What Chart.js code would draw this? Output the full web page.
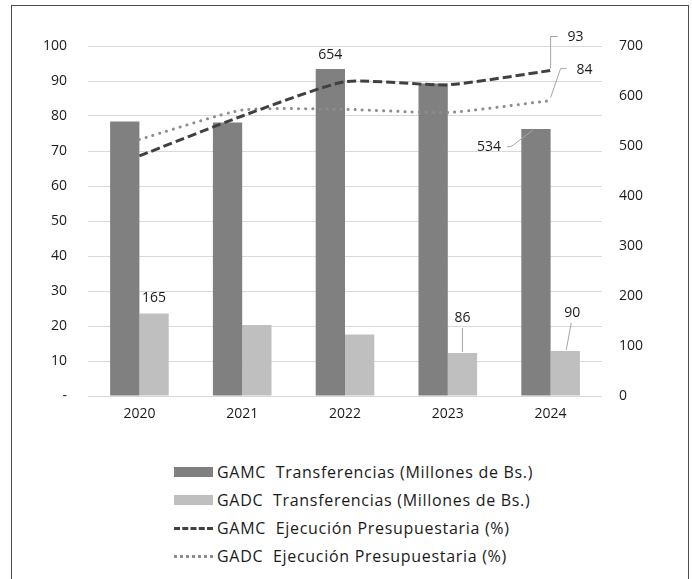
<!DOCTYPE html>
<html>
<head>
<meta charset="utf-8">
<script src="https://cdn.jsdelivr.net/npm/chart.js@4.4.0/dist/chart.umd.min.js"></script>
<style>
    body { margin: 0; background: #fff; font-family: "Open Sans", sans-serif; }
    #wrap { position: relative; width: 692px; height: 579px; overflow: hidden; }
    #frame {
        position: absolute; left: 11px; top: 5px; width: 676px; height: 640px;
        border: 1.5px solid #4d4d4d; border-bottom: none;
    }
    #chart { position: absolute; left: 0; top: 0; }
    #legend { position: absolute; left: 0; top: 458px; }
    .item { position: absolute; left: 174px; height: 28px; white-space: pre; font-size: 16px; letter-spacing: 0.7px; color: #1a1a1a; }
    .swatch { position: absolute; left: 0; width: 39px; }
    .item span.txt { position: absolute; left: 43px; top: 0; line-height: 28px; }
</style>
</head>
<body>
<div id="wrap">
    <div id="frame"></div>
    <canvas id="chart" width="692" height="440"></canvas>
    <div id="legend"></div>
</div>
<script>
// Data
const years = ['2020', '2021', '2022', '2023', '2024'];
const gamcTransfer = [549, 547, 654, 625, 534];   // millones de Bs. (right axis)
const gadcTransfer = [165, 142, 123, 86, 90];
const gamcExec = [68.6, 80.0, 89.8, 88.9, 93.0]; // % (left axis)
const gadcExec = [73.3, 81.7, 81.9, 81.0, 84.4];
const leftTicks = { min: 0, max: 100, step: 10 };
const rightTicks = { min: 0, max: 700, step: 100 };

const seriesNames = [
    'GAMC  Transferencias (Millones de Bs.)',
    'GADC  Transferencias (Millones de Bs.)',
    'GAMC  Ejecución Presupuestaria (%)',
    'GADC  Ejecución Presupuestaria (%)'
];

// Which values get a label, and where it sits relative to its mark
const shownLabels = [
    { ds: 0, i: 2, dx: 0, dy: -14 },
    { ds: 0, i: 4, dx: -47, dy: 18, leader: [[-29, 18], [-24, 17], [-3, 1]] },
    { ds: 1, i: 0, dx: 0, dy: -15 },
    { ds: 1, i: 3, dx: 0, dy: -35, leader: [[0, -25], [0, -1]] },
    { ds: 1, i: 4, dx: 7, dy: -38, leader: [[6, -28], [1, -1]] },
    { ds: 2, i: 4, dx: 25, dy: -33, leader: [[0, -2], [0, -34], [7, -34]] },
    { ds: 3, i: 4, dx: 34, dy: -31, leader: [[0, -3], [10, -32], [16, -32]] }
];

const labelFont = '14px "Open Sans", sans-serif';

// Draw the data labels with their leader lines
const dataLabels = {
    id: 'dataLabels',
    afterDatasetsDraw(chart) {
        const ctx = chart.ctx;
        ctx.save();
        shownLabels.forEach(l => {
            const el = chart.getDatasetMeta(l.ds).data[l.i];
            const value = chart.data.datasets[l.ds].data[l.i];
            if (l.leader) {
                ctx.strokeStyle = '#a6a6a6';
                ctx.lineWidth = 1;
                ctx.beginPath();
                l.leader.forEach((p, k) => {
                    const fn = k === 0 ? 'moveTo' : 'lineTo';
                    ctx[fn](el.x + p[0], el.y + p[1]);
                });
                ctx.stroke();
            }
            ctx.fillStyle = '#1a1a1a';
            ctx.font = labelFont;
            ctx.textAlign = 'center';
            ctx.textBaseline = 'middle';
            ctx.fillText(Math.round(value), el.x + l.dx, el.y + l.dy);
        });
        ctx.restore();
    }
};

const tickFont = { family: '"Open Sans", sans-serif', size: 14 };

const chart = new Chart(document.getElementById('chart'), {
    type: 'bar',
    data: {
        labels: years,
        datasets: [
            {
                label: seriesNames[0],
                data: gamcTransfer,
                backgroundColor: '#808080',
                yAxisID: 'yR',
                order: 2,
                categoryPercentage: 0.57,
                barPercentage: 1.0
            },
            {
                label: seriesNames[1],
                data: gadcTransfer,
                backgroundColor: '#bfbfbf',
                yAxisID: 'yR',
                order: 2,
                categoryPercentage: 0.57,
                barPercentage: 1.0
            },
            {
                type: 'line',
                label: seriesNames[2],
                data: gamcExec,
                borderColor: '#404040',
                borderWidth: 3,
                borderDash: [9, 4],
                pointRadius: 0,
                tension: 0.18,
                yAxisID: 'yL',
                order: 1
            },
            {
                type: 'line',
                label: seriesNames[3],
                data: gadcExec,
                borderColor: '#8c8c8c',
                borderWidth: 3,
                borderDash: [0.1, 7],
                borderCapStyle: 'round',
                pointRadius: 0,
                tension: 0.18,
                yAxisID: 'yL',
                order: 1
            }
        ]
    },
    options: {
        responsive: false,
        animation: false,
        layout: { padding: { top: 46, left: 0, right: 0, bottom: 0 } },
        plugins: {
            legend: { display: false },
            tooltip: { enabled: false }
        },
        scales: {
            x: {
                grid: { display: false, drawTicks: false },
                border: { display: false },
                ticks: { font: tickFont, color: '#1a1a1a', padding: 10 },
                afterFit: scale => { scale.height = 44; }
            },
            yL: {
                position: 'left',
                min: leftTicks.min,
                max: leftTicks.max,
                grid: { color: '#d9d9d9', lineWidth: 1, drawTicks: false },
                border: { display: false },
                ticks: {
                    stepSize: leftTicks.step,
                    font: tickFont,
                    color: '#1a1a1a',
                    padding: 21,
                    callback: v => v === 0 ? '-' : v
                },
                afterFit: scale => { scale.width = 88; }
            },
            yR: {
                position: 'right',
                min: rightTicks.min,
                max: rightTicks.max,
                grid: { drawOnChartArea: false, drawTicks: false },
                border: { display: false },
                ticks: {
                    stepSize: rightTicks.step,
                    font: tickFont,
                    color: '#1a1a1a',
                    padding: 17
                },
                afterFit: scale => { scale.width = 90; }
            }
        }
    },
    plugins: [dataLabels]
});

// Vertical legend below the chart, built from the datasets
const legend = document.getElementById('legend');
chart.data.datasets.forEach((ds, k) => {
    const item = document.createElement('div');
    item.className = 'item';
    item.style.top = (k * 28) + 'px';
    const sw = document.createElement('div');
    sw.className = 'swatch';
    if (ds.type === 'line') {
        sw.style.top = '13px';
        sw.style.height = '0';
        sw.style.borderTop = ds.borderDash[0] > 1
            ? '3px dashed ' + ds.borderColor
            : '3px dotted ' + ds.borderColor;
    } else {
        sw.style.top = '9px';
        sw.style.height = '10px';
        sw.style.background = ds.backgroundColor;
    }
    const txt = document.createElement('span');
    txt.className = 'txt';
    txt.textContent = ds.label;
    item.appendChild(sw);
    item.appendChild(txt);
    legend.appendChild(item);
});
</script>
</body>
</html>
